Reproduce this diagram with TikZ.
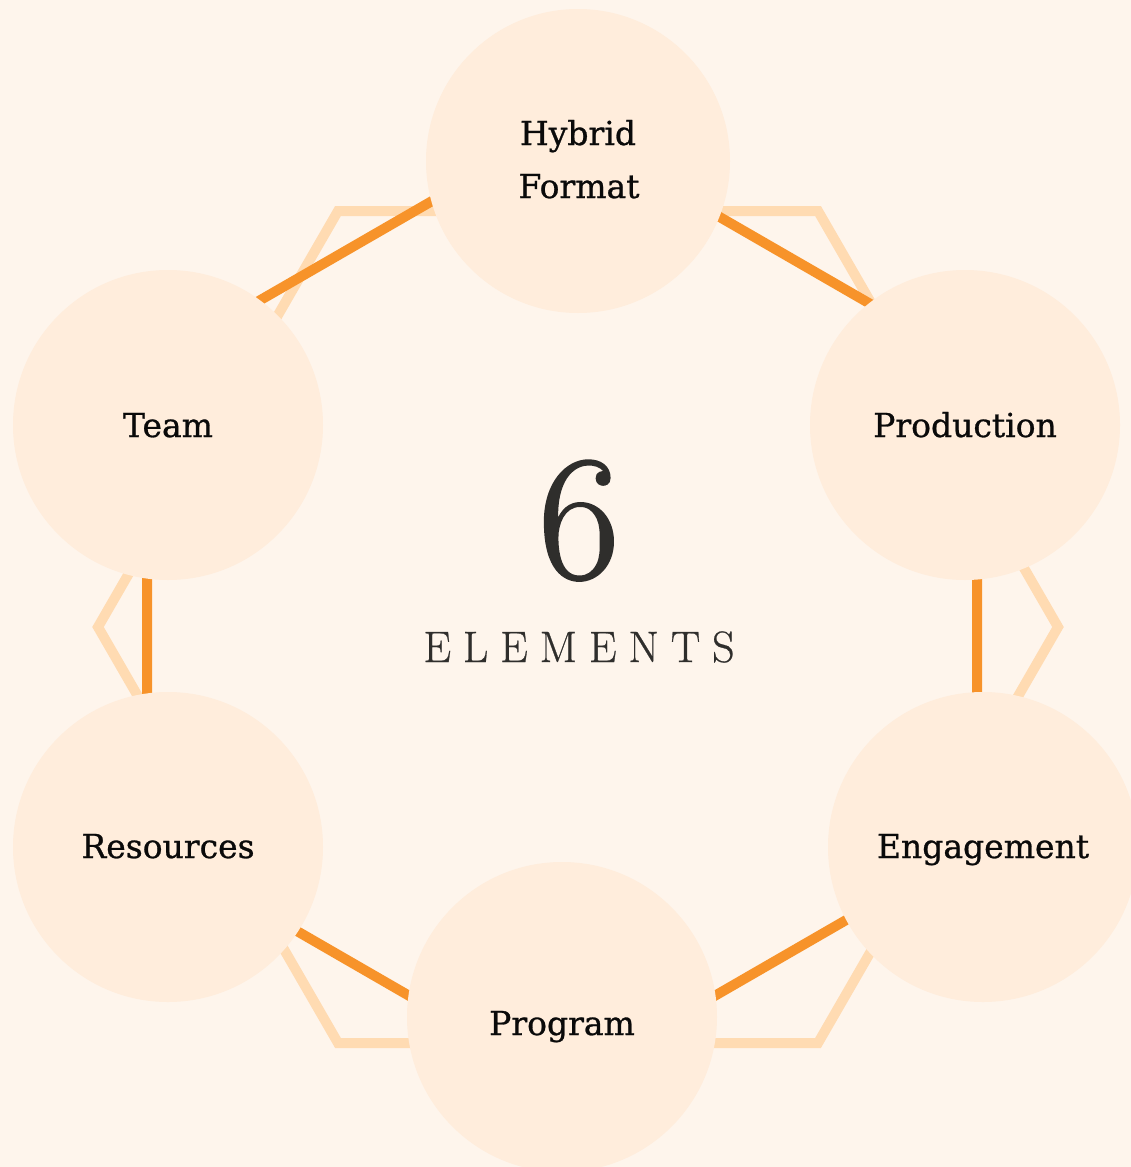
\documentclass[tikz,border=0pt]{standalone}
\usepackage{fontspec}
\setmainfont{DejaVu Serif}
\newfontfamily\lblfont[FakeBold=0.8]{DejaVu Serif}
\newfontfamily\bignum[FakeBold=1.2]{Latin Modern Roman}
\newfontfamily\spaced[LetterSpace=27,FakeBold=0.6]{Latin Modern Roman}
\definecolor{bgcol}{HTML}{FEF5EC}
\definecolor{circcol}{HTML}{FFEDDC}
\definecolor{orangecol}{HTML}{F7932A}
\definecolor{palecol}{HTML}{FFDBB2}
\definecolor{textcol}{HTML}{0A0A0A}
\definecolor{darkcol}{HTML}{2F2E2C}
\begin{document}
\begin{tikzpicture}[x=1pt,y=-1pt,
  elem/.style={circle,fill=circcol,minimum size=310pt,inner sep=0pt},
  lbl/.style={anchor=base,text=textcol,font=\lblfont\fontsize{33}{54}\selectfont},
  paleline/.style={draw=palecol,line width=10pt,line join=miter},
  orangeline/.style={draw=orangecol,line width=10pt,line join=miter}]
\fill[bgcol] (0,0) rectangle (1131,1167);
\useasboundingbox (0,0) rectangle (1131,1167);
% pale flat-top hexagon
\draw[paleline] (338,211) -- (818,211) -- (1058,627) -- (818,1043) -- (338,1043) -- (98,627) -- cycle;
% orange pointy-top hexagon
\draw[orangeline] (562,126) -- (977,365.5) -- (977,844.5) -- (562,1084) -- (147,844.5) -- (147,365.5) -- cycle;
% circles
\node[elem,minimum size=304pt] (hybrid) at (578,161) {};
\node[elem] (production) at (965,425) {};
\node[elem] (engagement) at (983,847) {};
\node[elem] (program) at (562,1017) {};
\node[elem] (resources) at (168,847) {};
\node[elem] (team) at (168,425) {};
% labels
\node[lbl] (l1a) at (578,145) {Hybrid};
\node[lbl] (l1b) at (579,198) {Format};
\node[lbl] (l2) at (965,437) {Production};
\node[lbl] (l3) at (983,858) {Engagement};
\node[lbl] (l4) at (562,1035) {Program};
\node[lbl] (l5) at (168,858) {Resources};
\node[lbl] (l6) at (168,437) {Team};
% center text
\node[anchor=base,text=darkcol,font=\bignum\fontsize{178}{178}\selectfont] (six) at (579,578) {6};
\node[anchor=base,text=darkcol,font=\spaced\fontsize{44}{44}\selectfont] (elements) at (579,662) {ELEMENTS};
\end{tikzpicture}
\end{document}
